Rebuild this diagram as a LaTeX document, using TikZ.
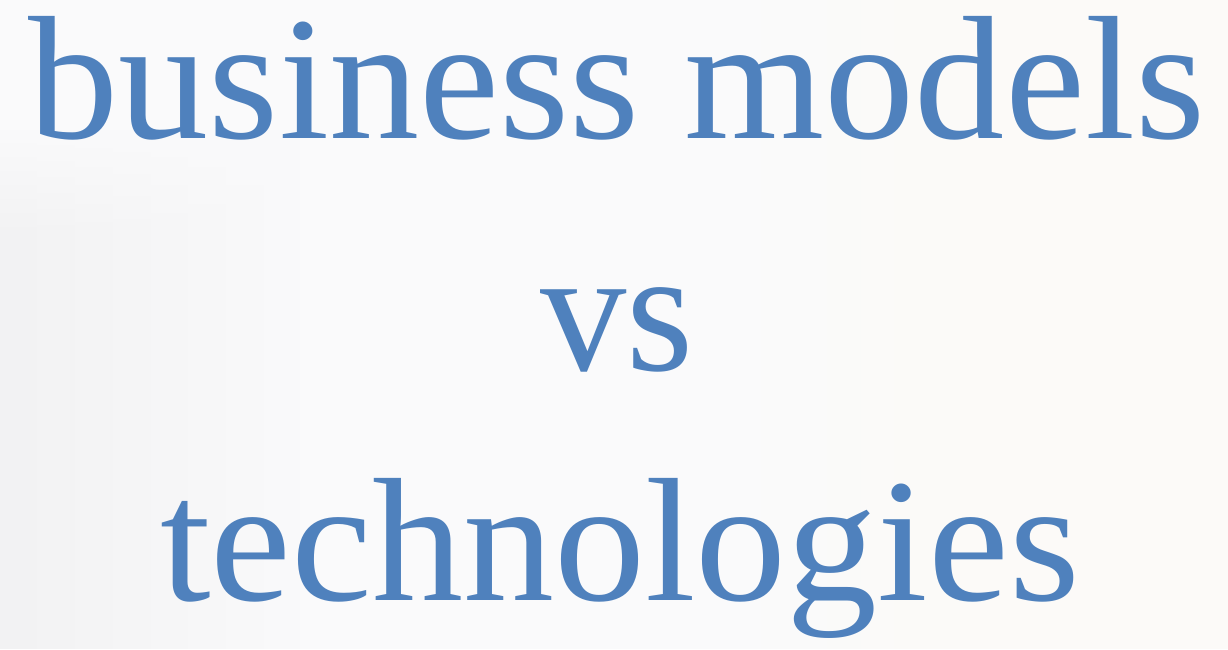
\documentclass[tikz,border=0pt]{standalone}
\usepackage{fontspec}
\setmainfont{Liberation Serif}
\usetikzlibrary{fadings}
\definecolor{titleblue}{HTML}{4F81BD}
\definecolor{bgbase}{HTML}{FAFAFB}
\definecolor{bgwarm}{HTML}{FCFAF8}
\definecolor{bgshade}{HTML}{F2F2F3}
\begin{document}
\begin{tikzpicture}[x=1pt,y=-1pt,
  titletext/.style={text=titleblue, inner sep=0pt, anchor=base,
    font=\fontsize{176}{176}\selectfont, transform shape}]
\useasboundingbox (0,0) rectangle (1228,649);
\fill[bgbase] (0,0) rectangle (1228,649);
% faint background photo shapes (soft)
\fill[bgwarm, path fading=west] (760,0) rectangle (960,649);
\fill[bgwarm] (960,0) rectangle (1228,649);
\fill[bgshade, path fading=east] (0,130) rectangle (300,649);
\fill[bgbase, path fading=south] (0,129) rectangle (300,240);
% titles
\begin{scope}[xscale=1.024]
\node[titletext] (line1) at (617/1.024,138) {business models};
\end{scope}
\begin{scope}[xscale=0.98]
\node[titletext] (line2) at (617/0.98,370) {vs};
\end{scope}
\begin{scope}[xscale=1.034]
\node[titletext] (line3) at (620/1.034,600) {technologies};
\end{scope}
\end{tikzpicture}
\end{document}
